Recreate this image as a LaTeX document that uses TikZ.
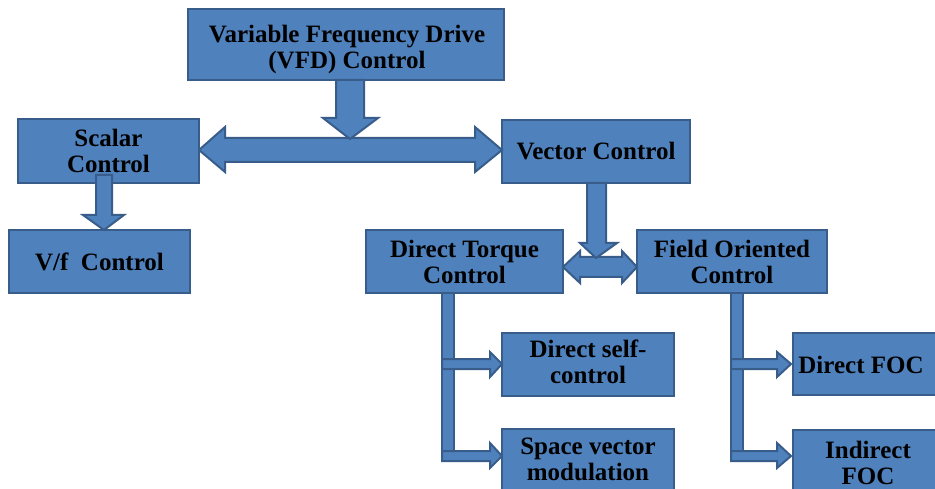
\documentclass[tikz,border=0pt]{standalone}
\usepackage{fontspec}
\setmainfont{Liberation Serif}
\definecolor{boxblue}{RGB}{79,129,189}
\definecolor{edgeblue}{RGB}{56,93,138}
\begin{document}
\begin{tikzpicture}[x=1pt,y=-1pt,
  txt/.style={align=center, inner sep=0pt, font=\fontsize{25}{26}\selectfont\bfseries, text=black},
  box/.style={draw=edgeblue, fill=boxblue, line width=2pt, txt},
  blockarrow/.style={draw=edgeblue, fill=boxblue, line width=2pt, line join=miter}]
\clip (0,0) rectangle (935,489);
\fill[white] (0,0) rectangle (935,489);
% boxes
\node[box, minimum width=316pt, minimum height=71pt] (vfd) at (346,44.5) {};
\node[txt] (vfdt) at (347,49) {Variable Frequency Drive\\(VFD) Control};
\node[box, minimum width=181pt, minimum height=64pt] (scalar) at (108.5,151) {Scalar\\Control};
\node[box, minimum width=188pt, minimum height=63pt] (vector) at (596,151.5) {Vector Control};
\node[box, minimum width=181pt, minimum height=63pt] (vf) at (99.5,261.5) {V/f\ \ Control};
\node[box, minimum width=197pt, minimum height=63pt] (dtc) at (464.5,261.5) {Direct Torque\\Control};
\node[box, minimum width=190pt, minimum height=63pt] (foc) at (732,261.5) {Field Oriented\\Control};
\node[box, minimum width=172pt, minimum height=63pt] (dsc) at (588,364.5) {};
\node[txt] (dsct) at (588,362) {Direct self-\\control};
\node[box, minimum width=172pt, minimum height=66pt] (svm) at (588,462) {};
\node[txt] (svmt) at (588,459.5) {Space vector\\modulation};
\node[box, minimum width=150pt, minimum height=62pt] (dfoc) at (868,364) {};
\node[txt] (dfoct) at (861,365) {Direct FOC};
\node[box, minimum width=150pt, minimum height=66pt] (ifoc) at (868,463) {Indirect\\FOC};
% VFD -> Scalar / Vector
\draw[blockarrow] (199,150) -- (225,127) -- (225,138) -- (475,138) -- (475,127) -- (502,150) -- (475,172) -- (475,162) -- (225,162) -- (225,172) -- cycle;
\draw[blockarrow] (336,80) -- (364,80) -- (364,118) -- (378,118) -- (350,139) -- (323,118) -- (336,118) -- cycle;
% scalar -> V/f
\draw[blockarrow] (96,175) -- (112,175) -- (112,215) -- (124,215) -- (104,230) -- (83,215) -- (96,215) -- cycle;
% DTC <-> FOC
\draw[blockarrow] (563,267) -- (580,251) -- (580,257) -- (622,257) -- (622,251) -- (637,267) -- (622,283) -- (622,277) -- (580,277) -- (580,283) -- cycle;
% vector -> down
\draw[blockarrow] (587,183) -- (606,183) -- (606,243) -- (617,243) -- (596,258) -- (580,243) -- (587,243) -- cycle;
% DTC tree
\draw[blockarrow] (442,293) rectangle (454,461);
\draw[blockarrow] (442,359) -- (490,359) -- (490,352) -- (502,364) -- (490,377) -- (490,369) -- (442,369) -- cycle;
\draw[blockarrow] (442,451) -- (490,451) -- (490,443) -- (502,456) -- (490,468) -- (490,461) -- (442,461) -- cycle;
% FOC tree
\draw[blockarrow] (731,293) rectangle (743,461);
\draw[blockarrow] (731,359) -- (777,359) -- (777,352) -- (791,364) -- (777,377) -- (777,369) -- (731,369) -- cycle;
\draw[blockarrow] (731,451) -- (777,451) -- (777,443) -- (791,456) -- (777,468) -- (777,461) -- (731,461) -- cycle;
\end{tikzpicture}
\end{document}
